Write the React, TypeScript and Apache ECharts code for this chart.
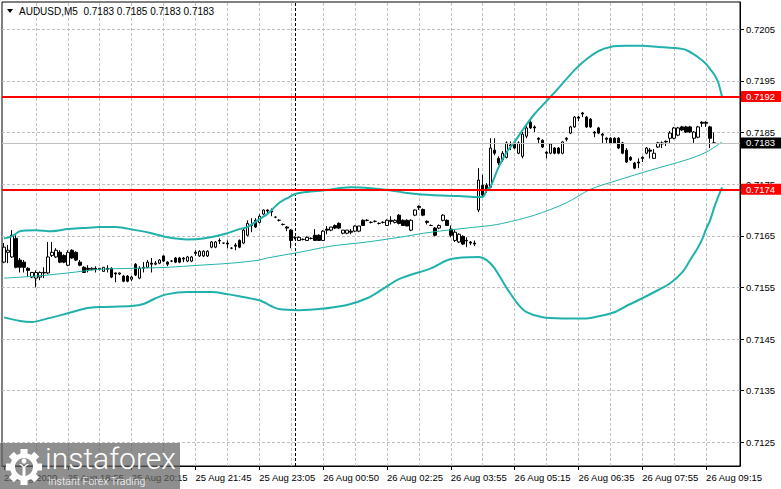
import React, { useEffect, useRef } from "react";
import * as echarts from "echarts";

const SYMBOL = "AUDUSD,M5";
const BAR_SLOTS = 185;
const Y_MIN = 0.71204;
const Y_MAX = 0.72103;

const opens = [
  0.71599, 0.71618, 0.71609, 0.71645, 0.71603, 0.71599, 0.71587, 0.7157, 0.71568, 0.7157,
  0.71579, 0.71578, 0.71612, 0.71609, 0.71618, 0.71612, 0.71593, 0.71622, 0.71618, 0.71599,
  0.71589, 0.71587, 0.71585, 0.71587, 0.71585, 0.71581, 0.71587, 0.71587, 0.71578, 0.71576,
  0.71572, 0.71572, 0.71566, 0.71595, 0.71568, 0.71587, 0.71589, 0.71597, 0.71595, 0.71597,
  0.71611, 0.71599, 0.71601, 0.71607, 0.71607, 0.71607, 0.71601, 0.71601, 0.71618, 0.71611,
  0.71611, 0.71611, 0.71628, 0.71628, 0.71641, 0.71636, 0.71636, 0.71626, 0.71632, 0.71641,
  0.71636, 0.71651, 0.7167, 0.7168, 0.71676, 0.71692, 0.717, 0.71698, 0.71686, 0.7168,
  0.71672, 0.71667, 0.71661, 0.71647, 0.71641, 0.71643, 0.71641, 0.71645, 0.71651, 0.71651,
  0.71641, 0.71663, 0.71661, 0.7167, 0.71674, 0.71655, 0.71655, 0.71659, 0.71659, 0.71659,
  0.7168, 0.7168, 0.71676, 0.71678, 0.71674, 0.71676, 0.7167, 0.7168, 0.71676, 0.7169,
  0.7168, 0.7168, 0.71661, 0.7169, 0.71707, 0.71701, 0.71678, 0.7167, 0.71665, 0.71665,
  0.7168, 0.7168, 0.71663, 0.71641, 0.71638, 0.71649, 0.71641, 0.71638, 0.71636, 0.717,
  0.71748, 0.71748, 0.71744, 0.71816, 0.718, 0.71797, 0.71802, 0.71826, 0.7183, 0.7181,
  0.71804, 0.71843, 0.7187, 0.71861, 0.71839, 0.71835, 0.71812, 0.7181, 0.7182, 0.7182,
  0.7181, 0.71839, 0.71849, 0.71861, 0.7188, 0.71888, 0.7188, 0.71876, 0.71851, 0.71859,
  0.71847, 0.71839, 0.71839, 0.71839, 0.71839, 0.7183, 0.71816, 0.71802, 0.71791, 0.71793,
  0.71802, 0.7181, 0.71816, 0.718, 0.71822, 0.7183, 0.71833, 0.71839, 0.71839, 0.71845,
  0.71861, 0.71861, 0.71861, 0.71839, 0.71841, 0.7187, 0.7187, 0.71861, 0.7183,
];

const highs = [
  0.71636, 0.71632, 0.71661, 0.71651, 0.71607, 0.71603, 0.71589, 0.71579, 0.71583, 0.71581,
  0.71589, 0.71638, 0.71638, 0.71626, 0.71622, 0.71614, 0.71622, 0.71624, 0.7162, 0.71603,
  0.71591, 0.71593, 0.71589, 0.71591, 0.71587, 0.71589, 0.71593, 0.71589, 0.71579, 0.71579,
  0.71574, 0.71574, 0.71572, 0.71597, 0.71591, 0.71599, 0.71603, 0.71607, 0.71601, 0.71605,
  0.71612, 0.71601, 0.71603, 0.71609, 0.71609, 0.71609, 0.71611, 0.71611, 0.71622, 0.71622,
  0.71622, 0.71622, 0.7164, 0.7164, 0.71645, 0.71636, 0.71641, 0.71628, 0.71636, 0.71643,
  0.71665, 0.7168, 0.71684, 0.71684, 0.71692, 0.71701, 0.71701, 0.71703, 0.71688, 0.71682,
  0.71674, 0.71669, 0.71663, 0.71649, 0.71649, 0.71645, 0.71649, 0.71647, 0.71663, 0.71653,
  0.71661, 0.71669, 0.71667, 0.71672, 0.71676, 0.71661, 0.71661, 0.71663, 0.7167, 0.71669,
  0.71682, 0.71682, 0.71678, 0.7168, 0.71676, 0.71678, 0.71682, 0.71688, 0.71682, 0.71692,
  0.71682, 0.71682, 0.71682, 0.71701, 0.71709, 0.71703, 0.7168, 0.71672, 0.71667, 0.71672,
  0.71692, 0.71682, 0.7167, 0.71661, 0.71655, 0.71651, 0.71647, 0.7164, 0.71641, 0.71781,
  0.71768, 0.71752, 0.71839, 0.71839, 0.71804, 0.71814, 0.71833, 0.71833, 0.71833, 0.71833,
  0.71851, 0.71863, 0.71874, 0.71864, 0.71841, 0.71837, 0.71814, 0.7183, 0.71822, 0.71822,
  0.71833, 0.71841, 0.71863, 0.71882, 0.71882, 0.7189, 0.71882, 0.71878, 0.71853, 0.71861,
  0.71849, 0.71841, 0.71841, 0.71841, 0.71841, 0.71832, 0.7182, 0.71804, 0.71793, 0.718,
  0.71804, 0.71822, 0.7182, 0.71818, 0.71832, 0.71833, 0.71835, 0.71853, 0.71861, 0.71861,
  0.71863, 0.71863, 0.71863, 0.71853, 0.71863, 0.71872, 0.71872, 0.71863, 0.7185,
];

const lows = [
  0.71597, 0.71597, 0.71607, 0.71587, 0.71579, 0.71579, 0.7157, 0.71568, 0.7155, 0.71564,
  0.71568, 0.71576, 0.71609, 0.71607, 0.71597, 0.71597, 0.71591, 0.71605, 0.71601, 0.71591,
  0.71579, 0.71579, 0.71583, 0.71579, 0.71583, 0.71581, 0.71579, 0.71568, 0.7156, 0.71574,
  0.7156, 0.7156, 0.71562, 0.71572, 0.71566, 0.71579, 0.71587, 0.71579, 0.71593, 0.71595,
  0.71599, 0.71591, 0.71599, 0.71597, 0.71597, 0.71599, 0.71599, 0.71599, 0.71611, 0.71609,
  0.71609, 0.71609, 0.71626, 0.71626, 0.71634, 0.71634, 0.71626, 0.71624, 0.71622, 0.71626,
  0.71634, 0.71649, 0.71657, 0.71665, 0.71674, 0.7169, 0.71692, 0.71688, 0.71684, 0.71678,
  0.7167, 0.71659, 0.71626, 0.71643, 0.7164, 0.71641, 0.7164, 0.71643, 0.7164, 0.7164,
  0.7164, 0.71653, 0.71659, 0.71663, 0.71663, 0.71653, 0.71653, 0.71653, 0.71657, 0.71657,
  0.71669, 0.71678, 0.71674, 0.71676, 0.71672, 0.71674, 0.71669, 0.71672, 0.71674, 0.71672,
  0.71669, 0.71669, 0.71659, 0.71688, 0.717, 0.71688, 0.71672, 0.71669, 0.71649, 0.71663,
  0.71678, 0.71669, 0.71647, 0.71638, 0.71636, 0.71632, 0.71628, 0.71632, 0.7163, 0.71696,
  0.71725, 0.71733, 0.71742, 0.71806, 0.71787, 0.71793, 0.718, 0.71816, 0.71818, 0.71808,
  0.718, 0.71839, 0.71857, 0.71851, 0.7183, 0.7182, 0.718, 0.71808, 0.71808, 0.71808,
  0.71808, 0.71833, 0.71847, 0.71859, 0.71872, 0.7188, 0.71859, 0.71859, 0.71841, 0.71847,
  0.7183, 0.7183, 0.71828, 0.71828, 0.71818, 0.71808, 0.71791, 0.71795, 0.71779, 0.71781,
  0.71793, 0.71808, 0.718, 0.71799, 0.7182, 0.7182, 0.71824, 0.7183, 0.71837, 0.71843,
  0.71853, 0.71849, 0.71849, 0.7183, 0.71839, 0.71861, 0.71861, 0.7182, 0.7183,
];

const closes = [
  0.71628, 0.71622, 0.71651, 0.71589, 0.71589, 0.71589, 0.71583, 0.71579, 0.71579, 0.71579,
  0.71578, 0.71609, 0.71618, 0.71622, 0.71599, 0.71599, 0.71618, 0.71607, 0.71603, 0.71593,
  0.71579, 0.71585, 0.71587, 0.71585, 0.71587, 0.71589, 0.71585, 0.7157, 0.71576, 0.71578,
  0.71562, 0.71562, 0.7157, 0.71574, 0.71587, 0.71589, 0.71599, 0.71595, 0.71597, 0.71603,
  0.71601, 0.71595, 0.71601, 0.71599, 0.71599, 0.71605, 0.71609, 0.71609, 0.71616, 0.7162,
  0.7162, 0.7162, 0.71638, 0.71638, 0.7164, 0.71636, 0.71634, 0.71626, 0.7163, 0.71628,
  0.71661, 0.71674, 0.71672, 0.71667, 0.71688, 0.717, 0.71698, 0.71696, 0.71686, 0.7168,
  0.71672, 0.71665, 0.71641, 0.71647, 0.71647, 0.71643, 0.71647, 0.71645, 0.71641, 0.71641,
  0.71659, 0.71661, 0.71667, 0.71665, 0.71665, 0.71661, 0.71661, 0.71657, 0.71669, 0.71669,
  0.7167, 0.7168, 0.71676, 0.71678, 0.71674, 0.71676, 0.7168, 0.71678, 0.7168, 0.71674,
  0.7167, 0.71669, 0.7168, 0.717, 0.71705, 0.7169, 0.71676, 0.7167, 0.71651, 0.7167,
  0.7169, 0.7167, 0.71651, 0.71657, 0.71653, 0.71634, 0.7164, 0.71636, 0.71634, 0.71758,
  0.71729, 0.71738, 0.7182, 0.7181, 0.71791, 0.7181, 0.7183, 0.71824, 0.7182, 0.7183,
  0.71847, 0.71859, 0.71859, 0.71859, 0.71837, 0.71822, 0.7181, 0.71828, 0.7181, 0.7181,
  0.71832, 0.71837, 0.71861, 0.7188, 0.71878, 0.71886, 0.71861, 0.71861, 0.71849, 0.71849,
  0.71845, 0.71837, 0.7183, 0.7183, 0.7182, 0.7181, 0.71793, 0.71797, 0.71781, 0.71791,
  0.718, 0.7182, 0.71814, 0.7181, 0.7183, 0.71828, 0.71832, 0.71849, 0.71859, 0.71859,
  0.71855, 0.71851, 0.71851, 0.71851, 0.71861, 0.71868, 0.71868, 0.71839, 0.7183,
];

// Bollinger upper band (bar index, value)
const upperIdx = [0, 2, 4, 8, 12, 16, 20, 24, 28, 33, 37, 41, 46, 50, 54, 56, 59, 61, 64, 66, 69, 71, 73, 76, 80, 87, 92, 97, 101, 107, 114, 119, 120, 121, 122, 124, 126, 128, 130, 133, 136, 139, 143, 146, 149, 152, 156, 160, 164, 168, 171, 174, 176, 177, 178, 179, 180];
const upperVal = [0.71645, 0.71649, 0.71659, 0.71661, 0.71659, 0.71663, 0.71665, 0.71667, 0.71667, 0.71661, 0.71655, 0.71647, 0.71643, 0.71645, 0.71651, 0.71655, 0.71663, 0.71667, 0.71682, 0.71692, 0.71714, 0.71723, 0.71731, 0.71735, 0.71738, 0.71744, 0.71742, 0.71738, 0.71733, 0.71729, 0.71727, 0.71725, 0.71725, 0.71738, 0.71746, 0.71783, 0.71812, 0.71832, 0.71855, 0.71886, 0.71911, 0.71936, 0.71971, 0.71992, 0.72008, 0.72016, 0.72018, 0.72018, 0.72016, 0.72014, 0.7201, 0.71996, 0.71983, 0.71973, 0.71963, 0.71948, 0.71919];

// Bollinger lower band
const lowerIdx = [0, 4, 7, 11, 16, 21, 24, 32, 35, 38, 41, 46, 52, 56, 59, 64, 69, 74, 79, 86, 91, 95, 99, 107, 112, 119, 121, 123, 126, 129, 131, 135, 140, 146, 149, 153, 156, 160, 164, 167, 170, 172, 174, 175, 176, 177, 178, 179, 180];
const lowerVal = [0.71492, 0.71485, 0.71483, 0.7149, 0.715, 0.7151, 0.71512, 0.71514, 0.71518, 0.71529, 0.71537, 0.71541, 0.71541, 0.71537, 0.71533, 0.71525, 0.71508, 0.71506, 0.71508, 0.71516, 0.71529, 0.71547, 0.71566, 0.71587, 0.71605, 0.71609, 0.71603, 0.71587, 0.71549, 0.71516, 0.71502, 0.71492, 0.7149, 0.7149, 0.71494, 0.71502, 0.71514, 0.71529, 0.71545, 0.71558, 0.71579, 0.71603, 0.71628, 0.71643, 0.71663, 0.7168, 0.71704, 0.71725, 0.71744];

// Moving average
const maIdx = [0, 8, 16, 24, 32, 41, 49, 57, 64, 66, 74, 82, 91, 99, 107, 116, 122, 125, 133, 141, 147, 154, 162, 171, 176, 180];
const maVal = [0.71568, 0.71572, 0.71578, 0.71585, 0.71587, 0.71589, 0.71593, 0.71597, 0.71603, 0.71607, 0.71618, 0.7163, 0.71638, 0.71647, 0.71657, 0.71665, 0.7167, 0.71674, 0.7169, 0.71714, 0.7174, 0.71758, 0.71777, 0.71797, 0.71812, 0.71832];

const timeLabelIdx = [0, 16, 32, 48, 64, 80, 96, 112, 128, 144, 160, 176];
const timeLabels = [
  "25 Aug 2020", "25 Aug 18:55", "25 Aug 20:15", "25 Aug 21:45", "25 Aug 23:05", "26 Aug 00:50",
  "26 Aug 02:25", "26 Aug 03:55", "26 Aug 05:15", "26 Aug 06:35", "26 Aug 07:55", "26 Aug 09:15",
];
const gridBarIdx = [8, 16, 24, 32, 40, 48, 56, 64, 72, 80, 88, 96, 104, 112, 120, 128, 136, 144, 152, 160, 168, 176];
const priceTicks = [0.7125, 0.7135, 0.7145, 0.7155, 0.7165, 0.7175, 0.7185, 0.7195, 0.7205];
const redLevels = [0.7192, 0.7174];
const currentPrice = 0.7183;
const separatorIdx = 73;

const TEAL = "#20b2aa";
const FONT = "Liberation Sans, Arial, sans-serif";
const FS = 9.5;

export default function App() {
  const ref = useRef<HTMLDivElement>(null);

  useEffect(() => {
    if (!ref.current) return;
    const chart = echarts.init(ref.current, null, { renderer: "svg" });

    const categories = Array.from({ length: BAR_SLOTS }, (_, i) => String(i));
    const candleData = opens.map((o, i) => [o, closes[i], lows[i], highs[i]]);
    const pairs = (idx: number[], val: number[]) => idx.map((x, k) => [x, val[k]]);
    const labelMap: Record<number, string> = {};
    timeLabelIdx.forEach((ix, k) => (labelMap[ix] = timeLabels[k]));
    const isLabel = (i: number) => labelMap[i] !== undefined;
    const last = opens.length - 1;
    const f4 = (v: number) => v.toFixed(4);
    const title = `${SYMBOL}  ${f4(opens[last])} ${f4(highs[last])} ${f4(lows[last])} ${f4(closes[last])}`;

    const boxLabel = (txt: string, bg: string) => ({
      show: true,
      position: "end",
      distance: 1,
      formatter: txt,
      color: "#fff",
      backgroundColor: bg,
      padding: [1, 8, 0, 5],
      fontSize: FS,
      fontFamily: FONT,
    });

    const teeth = [0, 45, 90, 135, 180, 225, 270, 315].map((a) => ({
      type: "group",
      x: 24,
      y: 467,
      rotation: (a * Math.PI) / 180,
      z: 101,
      children: [
        { type: "rect", z: 101, shape: { x: -3.5, y: -18, width: 7, height: 6 }, style: { fill: "#fff" } },
      ],
    }));

    const option: any = {
      animation: false,
      textStyle: { fontFamily: FONT },
      grid: {
        left: 2,
        right: 41,
        top: 2,
        bottom: 23,
        show: true,
        borderColor: "#000",
        borderWidth: 1,
        backgroundColor: "#fff",
      },
      xAxis: {
        type: "category",
        data: categories,
        boundaryGap: true,
        axisLine: { show: true, lineStyle: { color: "#000" } },
        axisTick: {
          show: true,
          alignWithLabel: true,
          interval: (i: number) => isLabel(i),
          length: 4,
          lineStyle: { color: "#000" },
        },
        axisLabel: {
          interval: (i: number) => isLabel(i),
          formatter: (v: string) => labelMap[Number(v)] ?? "",
          align: "left",
          margin: 6,
          fontSize: FS,
          color: "#000",
          fontFamily: FONT,
        },
        splitLine: { show: false },
      },
      yAxis: {
        type: "value",
        position: "right",
        min: Y_MIN,
        max: Y_MAX,
        scale: true,
        axisLine: { show: true, lineStyle: { color: "#000" } },
        axisTick: { show: true, customValues: priceTicks, length: 4, lineStyle: { color: "#000" } },
        axisLabel: {
          customValues: priceTicks,
          formatter: (v: number) => v.toFixed(4),
          fontSize: FS,
          color: "#000",
          margin: 6,
          fontFamily: FONT,
        },
        splitLine: { show: false },
      },
      series: [
        {
          name: "price",
          type: "candlestick",
          data: candleData,
          barWidth: 3,
          z: 2,
          itemStyle: {
            color: "#fff",
            color0: "#000",
            borderColor: "#000",
            borderColor0: "#000",
            borderWidth: 1,
          },
          markLine: {
            silent: true,
            symbol: "none",
            precision: 6,
            z: 1,
            animation: false,
            label: { show: false },
            lineStyle: { color: "#c0c0c0", type: [3, 2], width: 1 },
            data: [
              ...priceTicks.map((v) => ({ yAxis: v })),
              ...gridBarIdx.map((i) => ({ xAxis: i })),
              { xAxis: separatorIdx, lineStyle: { color: "#000", type: [3, 2], width: 1 } },
            ],
          },
        },
        {
          name: "upper",
          type: "line",
          data: pairs(upperIdx, upperVal),
          showSymbol: false,
          smooth: 0.3,
          z: 3,
          lineStyle: { color: TEAL, width: 2 },
          markLine: {
            silent: true,
            symbol: "none",
            precision: 6,
            z: 6,
            animation: false,
            data: [
              {
                yAxis: currentPrice,
                lineStyle: { color: "#c0c0c0", width: 1, type: "solid" },
                label: boxLabel(f4(currentPrice), "#000"),
              },
              ...redLevels.map((v) => ({
                yAxis: v,
                lineStyle: { color: "#ff0000", width: 2, type: "solid" },
                label: boxLabel(f4(v), "#ff0000"),
              })),
            ],
          },
        },
        {
          name: "lower",
          type: "line",
          data: pairs(lowerIdx, lowerVal),
          showSymbol: false,
          smooth: 0.3,
          z: 3,
          lineStyle: { color: TEAL, width: 2 },
        },
        {
          name: "ma",
          type: "line",
          data: pairs(maIdx, maVal),
          showSymbol: false,
          smooth: 0.3,
          z: 3,
          lineStyle: { color: TEAL, width: 1 },
        },
      ],
      graphic: [
        { type: "polygon", z: 100, shape: { points: [[7, 9], [13, 9], [10, 13]] }, style: { fill: "#000" } },
        {
          type: "text",
          z: 100,
          x: 19,
          y: 6,
          style: { text: title, fill: "#000", fontSize: 10, fontFamily: FONT },
        },
        {
          type: "rect",
          z: 100,
          silent: true,
          shape: { x: 0, y: 443, width: 180, height: 46 },
          style: { fill: "rgba(100,100,100,0.72)" },
        },
        { type: "ring", z: 101, shape: { cx: 24, cy: 467, r: 14, r0: 9 }, style: { fill: "#fff" } },
        ...teeth,
        { type: "circle", z: 101, shape: { cx: 24, cy: 461, r: 2.5 }, style: { fill: "#fff" } },
        {
          type: "polygon",
          z: 101,
          shape: { points: [[19, 464], [22.5, 467], [22.5, 476], [25.5, 476], [25.5, 467], [29, 464], [27, 464], [24, 466.5], [21, 464]] },
          style: { fill: "#fff" },
        },
        {
          type: "text",
          z: 101,
          x: 45,
          y: 443,
          style: { text: "instaforex", fill: "#fff", fontSize: 30, fontWeight: 300, fontFamily: "Roboto, Liberation Sans, sans-serif" },
        },
        {
          type: "text",
          z: 101,
          x: 48,
          y: 476,
          style: { text: "Instant Forex Trading", fill: "#fff", fontSize: 10.5, fontWeight: 300, fontFamily: "Roboto, Liberation Sans, sans-serif" },
        },
      ],
    };

    chart.setOption(option);
    return () => chart.dispose();
  }, []);

  return (
    <div
      ref={ref}
      style={{ position: "fixed", left: 0, top: 0, width: 781, height: 489, background: "#fff" }}
    />
  );
}
